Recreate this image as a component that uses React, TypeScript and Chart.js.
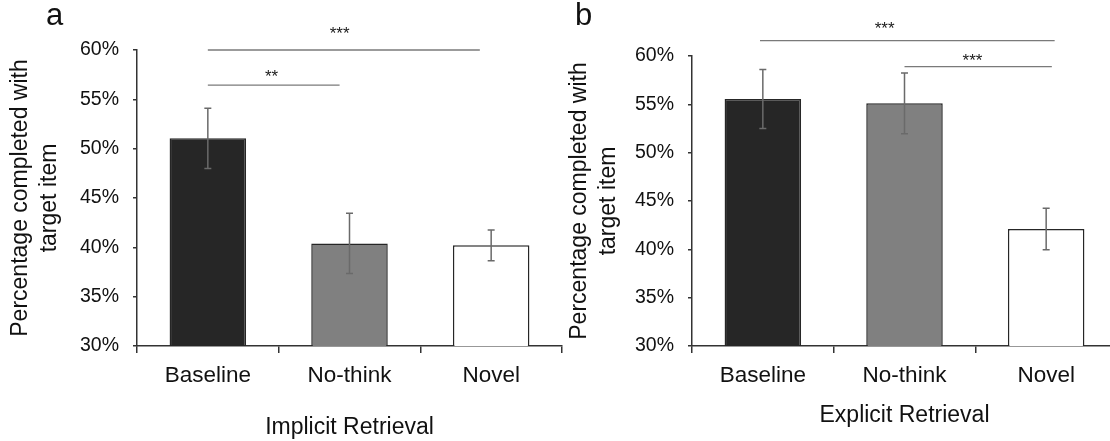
import React, { useEffect, useRef } from "react";
import { Chart, registerables } from "chart.js";

Chart.register(...registerables);

const categories = ["Baseline", "No-think", "Novel"];
const implicitValues = [51.05, 40.4, 40.2];
const implicitErrors = [3.05, 3.05, 1.55];
const explicitValues = [55.55, 55.1, 42.1];
const explicitErrors = [3.05, 3.15, 2.15];
const yTickMin = 30;
const yTickMax = 60;
const yTickStep = 5;
const barColors = ["#262626", "#808080", "#ffffff"];
// significance brackets: [fromIndex, toIndex, level(%), label, labelIndex, labelLevel(%)]
const implicitSig: [number, number, number, string, number, number][] = [
  [0, 1.92, 60, "***", 0.93, 61.85],
  [0, 0.93, 56.45, "**", 0.45, 57.55],
];
const explicitSig: [number, number, number, string, number, number][] = [
  [-0.02, 2.06, 61.6, "***", 0.86, 63.1],
  [1.0, 2.04, 58.9, "***", 1.48, 59.8],
];

const FONT = "'Liberation Sans', Arial, Helvetica, sans-serif";

const extrasPlugin = {
  id: "extras",
  afterDatasetsDraw(chart: any, _args: any, opts: any) {
    const { ctx } = chart;
    const x = chart.scales.x;
    const y = chart.scales.y;
    const meta = chart.getDatasetMeta(0);
    ctx.save();
    ctx.strokeStyle = "#6a6a6a";
    ctx.lineWidth = 1.5;
    meta.data.forEach((bar: any, i: number) => {
      const v = opts.values[i];
      const e = opts.errors[i];
      const yt = y.getPixelForValue(v + e);
      const yb = y.getPixelForValue(v - e);
      const cx = bar.x;
      ctx.beginPath();
      ctx.moveTo(cx, yt);
      ctx.lineTo(cx, yb);
      ctx.moveTo(cx - 3.5, yt);
      ctx.lineTo(cx + 3.5, yt);
      ctx.moveTo(cx - 3.5, yb);
      ctx.lineTo(cx + 3.5, yb);
      ctx.stroke();
    });
    ctx.strokeStyle = "#7a7a7a";
    ctx.lineWidth = 1.3;
    ctx.fillStyle = "#1a1a1a";
    ctx.font = `17px ${FONT}`;
    ctx.textAlign = "center";
    ctx.textBaseline = "middle";
    for (const s of opts.sig) {
      const [from, to, level, label, li, ll] = s;
      const py = y.getPixelForValue(level);
      ctx.beginPath();
      ctx.moveTo(x.getPixelForValue(from), py);
      ctx.lineTo(x.getPixelForValue(to), py);
      ctx.stroke();
      ctx.fillText(label, x.getPixelForValue(li), y.getPixelForValue(ll) + 3);
    }
    ctx.font = `31px ${FONT}`;
    ctx.textAlign = "left";
    ctx.textBaseline = "alphabetic";
    ctx.fillStyle = "#111";
    ctx.fillText(opts.letter, opts.letterX, 25);
    ctx.restore();
  },
};

function makeConfig(values: number[], errors: number[], sig: any[], xTitle: string, letter: string, letterX: number, topPad: number, xTitlePad: number, yTitlePad: number) {
  return {
    type: "bar" as const,
    data: {
      labels: categories,
      datasets: [
        {
          data: values,
          backgroundColor: barColors,
          borderColor: "#262626",
          borderWidth: 1.5,
          categoryPercentage: 1,
          barPercentage: 0.54,
        },
      ],
    },
    options: {
      animation: false as const,
      responsive: false,
      devicePixelRatio: 1,
      layout: { padding: { top: topPad, right: 18, left: 0, bottom: 0 } },
      plugins: {
        legend: { display: false },
        tooltip: { enabled: false },
        extras: { values, errors, sig, letter, letterX },
      },
      scales: {
        x: {
          grid: {
            display: true,
            drawOnChartArea: false,
            drawTicks: true,
            tickLength: 7,
            color: "#333",
            lineWidth: 1.5,
            offset: true,
          },
          border: { display: true, color: "#333", width: 1.5 },
          ticks: { color: "#111", font: { family: FONT, size: 22.5 }, padding: 9 },
          title: {
            display: true,
            text: xTitle,
            color: "#111",
            font: { family: FONT, size: 23 },
            padding: { top: 0, bottom: xTitlePad },
          },
          afterFit: (scale: any) => {
            scale.height = 95;
          },
        },
        y: {
          min: yTickMin,
          max: yTickMax,
          grid: {
            display: true,
            drawOnChartArea: false,
            drawTicks: true,
            tickLength: 4,
            color: "#333",
            lineWidth: 1.5,
          },
          border: { display: true, color: "#333", width: 1.5 },
          ticks: {
            stepSize: yTickStep,
            color: "#111",
            font: { family: FONT, size: 19.5 },
            padding: 14,
            callback: (v: any) => `${v}%`,
          },
          title: {
            display: true,
            text: ["Percentage completed with", "target item"],
            color: "#111",
            font: { family: FONT, size: 23, lineHeight: 1.26 },
            padding: { top: yTitlePad, bottom: 0 },
          },
          afterFit: (scale: any) => {
            scale.width = 137;
          },
        },
      },
    },
    plugins: [extrasPlugin],
  };
}

function Panel(props: { left: number; cfg: any }) {
  const ref = useRef<HTMLCanvasElement>(null);
  useEffect(() => {
    if (!ref.current) return;
    const chart = new Chart(ref.current, props.cfg);
    return () => chart.destroy();
  }, []);
  return (
    <canvas
      ref={ref}
      width={580}
      height={441}
      style={{ position: "absolute", left: props.left, top: 0, width: 580, height: 441 }}
    />
  );
}

export default function App() {
  const leftCfg = makeConfig(implicitValues, implicitErrors, implicitSig, "Implicit Retrieval", "a", 46, 50, 0, 6.5);
  const rightCfg = makeConfig(explicitValues, explicitErrors, explicitSig, "Explicit Retrieval", "b", 20, 56, 12, 10.5);
  return (
    <div
      style={{
        position: "fixed",
        left: 0,
        top: 0,
        width: 1110,
        height: 441,
        overflow: "hidden",
        background: "#fff",
      }}
    >
      <Panel left={0} cfg={leftCfg} />
      <Panel left={555} cfg={rightCfg} />
    </div>
  );
}
